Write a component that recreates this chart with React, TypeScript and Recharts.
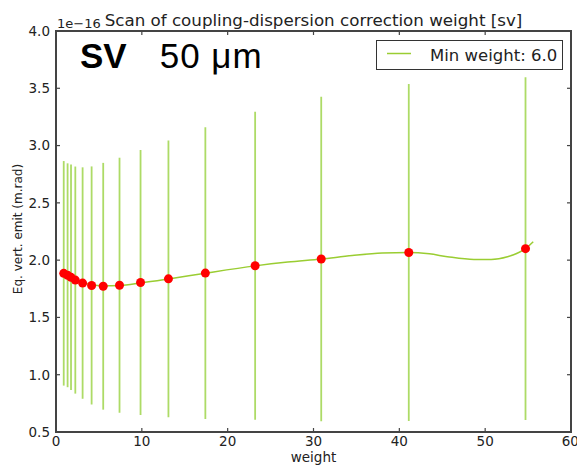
import {
  ComposedChart,
  ErrorBar,
  Line,
  Scatter,
  XAxis,
  YAxis,
} from "recharts";

// weights scanned and the resulting emittance (units of 1e-16 m.rad)
const weights = [0.9, 1.35, 1.75, 2.25, 3.1, 4.15, 5.5, 7.4, 9.85, 13.1, 17.4, 23.2, 30.9, 41.1, 54.7];
const emit = [1.885, 1.868, 1.85, 1.826, 1.8, 1.779, 1.772, 1.781, 1.805, 1.837, 1.887, 1.951, 2.01, 2.067, 2.1];
const emitErr = [0.98, 0.977, 0.984, 0.991, 1.01, 1.039, 1.077, 1.113, 1.157, 1.208, 1.273, 1.345, 1.417, 1.47, 1.496];

// polynomial fit
const fitX = [0.9, 1.5, 2.25, 3.1, 4.15, 5.5, 7.4, 9.85, 13.1, 17.4, 23.2, 27, 30.9, 34.5, 38, 41.1, 43.5, 45.6, 48.7, 50.7, 52.6, 54.7, 55.6];
const fitY = [1.885, 1.862, 1.835, 1.806, 1.785, 1.776, 1.779, 1.8, 1.835, 1.886, 1.95, 1.983, 2.01, 2.04, 2.062, 2.067, 2.055, 2.03, 2.006, 2.006, 2.03, 2.1, 2.16];

const xTicks = [0, 10, 20, 30, 40, 50, 60];
const yTicks = [0.5, 1.0, 1.5, 2.0, 2.5, 3.0, 3.5, 4.0];
const X_MIN = 0;
const X_MAX = 60;
const Y_MIN = 0.5;
const Y_MAX = 4;

const title = "Scan of coupling-dispersion correction weight [sv]";
const offsetText = "1e\u221216";
const xLabel = "weight";
const yLabel = "Eq. vert. emit (m.rad)";
const legendLabel = "Min weight: 6.0";
const plane = "SV";
const resolution = "50 \u03bcm";

const GREEN = "#9acd32";
const BAR = "#addb66";
const FRAME = "#444444";
const FONT = "'DejaVu Sans', sans-serif";
const TICK = 4;

const points = weights.map((x, i) => ({ x, y: emit[i], err: emitErr[i] }));
const fit = fitX.map((x, i) => ({ x, y: fitY[i] }));

// inward tick marks on every side of the axes box
const bottomTicks = xTicks.map((x) => ({ x, y: Y_MIN }));
const topTicks = xTicks.map((x) => ({ x, y: Y_MAX }));
const leftTicks = yTicks.map((y) => ({ x: X_MIN, y }));
const rightTicks = yTicks.map((y) => ({ x: X_MAX, y }));

const tickStyle = { fontSize: 13.5, fill: "#222", fontFamily: FONT };

function Dot(props: any) {
  return <circle cx={props.cx} cy={props.cy} r={4.5} fill="#ff0000" />;
}

// side: where the mark grows from the point
const tickMark = (side: "up" | "down" | "right" | "left") => (props: any) => {
  const { cx, cy } = props;
  if (side === "up") return <rect x={cx - 0.6} y={cy - TICK} width={1.2} height={TICK} fill={FRAME} />;
  if (side === "down") return <rect x={cx - 0.6} y={cy} width={1.2} height={TICK} fill={FRAME} />;
  if (side === "right") return <rect x={cx} y={cy - 0.6} width={TICK} height={1.2} fill={FRAME} />;
  return <rect x={cx - TICK} y={cy - 0.6} width={TICK} height={1.2} fill={FRAME} />;
};

export default function App() {
  return (
    <div style={{ position: "absolute", left: 0, top: 0, width: 577, height: 466, background: "#fff" }}>
      <ComposedChart
        width={577}
        height={466}
        margin={{ top: 31, right: 6, bottom: 0, left: 0 }}
      >
        <XAxis
          dataKey="x"
          type="number"
          domain={[X_MIN, X_MAX]}
          ticks={xTicks}
          height={34}
          axisLine={false}
          tickLine={false}
          tickSize={0}
          tickMargin={4}
          tick={tickStyle}
          label={{ value: xLabel, position: "insideBottom", offset: 4, style: { ...tickStyle } }}
        />
        <YAxis
          dataKey="y"
          type="number"
          domain={[Y_MIN, Y_MAX]}
          ticks={yTicks}
          width={56}
          axisLine={false}
          tickLine={false}
          tickSize={0}
          tickMargin={6}
          tick={tickStyle}
          tickFormatter={(v: number) => v.toFixed(1)}
        />

        <Line
          data={fit}
          dataKey="y"
          type="monotone"
          stroke={GREEN}
          strokeWidth={1.5}
          dot={false}
          isAnimationActive={false}
        />
        <Scatter data={points} dataKey="y" shape={Dot} legendType="none" isAnimationActive={false}>
          <ErrorBar
            dataKey="err"
            direction="y"
            width={0}
            stroke={BAR}
            strokeWidth={1.8}
            isAnimationActive={false}
          />
        </Scatter>

        <Scatter data={bottomTicks} dataKey="y" shape={tickMark("up")} legendType="none" isAnimationActive={false} />
        <Scatter data={topTicks} dataKey="y" shape={tickMark("down")} legendType="none" isAnimationActive={false} />
        <Scatter data={leftTicks} dataKey="y" shape={tickMark("right")} legendType="none" isAnimationActive={false} />
        <Scatter data={rightTicks} dataKey="y" shape={tickMark("left")} legendType="none" isAnimationActive={false} />
      </ComposedChart>

      {/* axes box */}
      <div
        style={{
          position: "absolute",
          left: 55,
          top: 30,
          width: 517,
          height: 403,
          border: `2px solid ${FRAME}`,
          boxSizing: "border-box",
          pointerEvents: "none",
        }}
      />

      {/* legend */}
      <div
        style={{
          position: "absolute",
          left: 376,
          top: 40,
          width: 187,
          height: 30,
          border: `1px solid #333`,
          background: "#fff",
          display: "flex",
          alignItems: "center",
          fontFamily: FONT,
          fontSize: 16.5,
          color: "#222",
          boxSizing: "border-box",
        }}
      >
        <svg width={53} height={28}>
          <line x1={10} x2={34} y1={12.5} y2={12.5} stroke={GREEN} strokeWidth={1.5} />
        </svg>
        <span>{legendLabel}</span>
      </div>

      <div
        style={{
          position: "absolute",
          left: 56,
          width: 515,
          top: 10,
          textAlign: "center",
          fontFamily: FONT,
          fontSize: 16.7,
          color: "#222",
          whiteSpace: "nowrap",
        }}
      >
        {title}
      </div>
      <div style={{ position: "absolute", left: 57, top: 16, fontFamily: FONT, fontSize: 13, color: "#222" }}>
        {offsetText}
      </div>
      <div
        style={{
          position: "absolute",
          left: 18,
          top: 229,
          transform: "translate(-50%, -50%) rotate(-90deg)",
          whiteSpace: "nowrap",
          fontFamily: FONT,
          fontSize: 12,
          color: "#222",
        }}
      >
        {yLabel}
      </div>
      <div
        style={{
          position: "absolute",
          left: 80,
          top: 38,
          fontFamily: "'Liberation Sans', Arial, sans-serif",
          fontSize: 35,
          lineHeight: 1,
          color: "#000",
          whiteSpace: "pre",
        }}
      >
        <b>{plane}</b>
        <span style={{ marginLeft: 33, letterSpacing: 1 }}>{resolution}</span>
      </div>
    </div>
  );
}
